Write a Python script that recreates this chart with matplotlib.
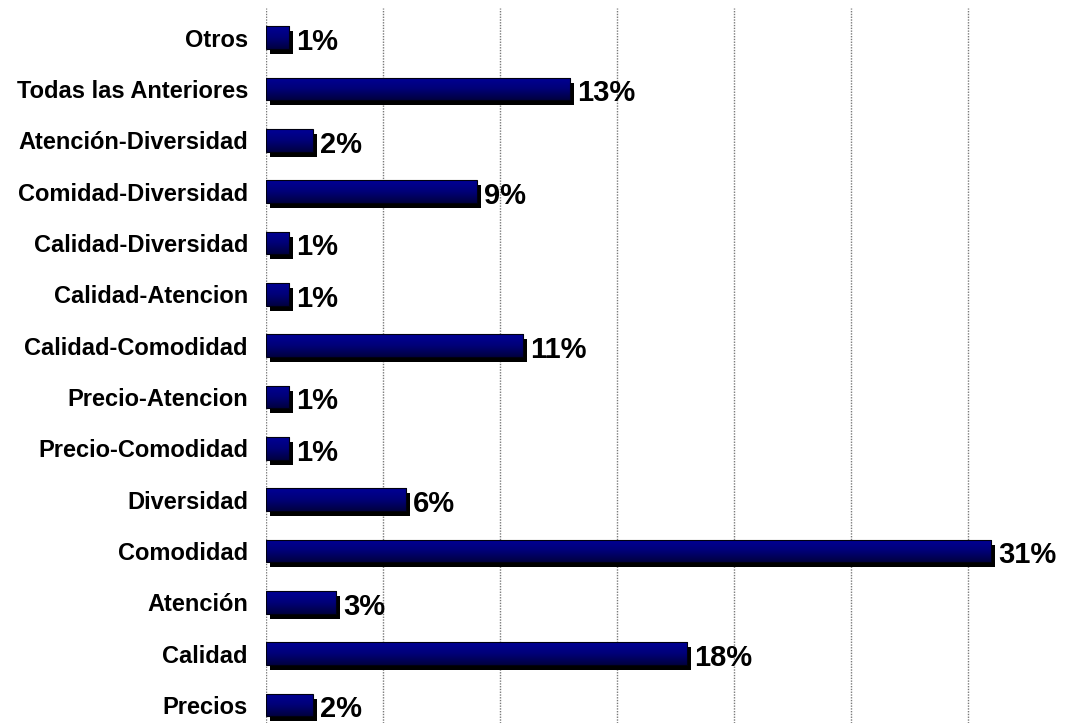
import numpy as np
import matplotlib
matplotlib.use("Agg")
import matplotlib.pyplot as plt
import matplotlib.transforms as mtransforms
from matplotlib.colors import LinearSegmentedColormap

# Survey answers, bottom to top
categories = [
    "Precios", "Calidad", "Atención", "Comodidad", "Diversidad",
    "Precio-Comodidad", "Precio-Atencion", "Calidad-Comodidad",
    "Calidad-Atencion", "Calidad-Diversidad", "Comidad-Diversidad",
    "Atención-Diversidad", "Todas las Anteriores", "Otros",
]
percentages = [2, 18, 3, 31, 6, 1, 1, 11, 1, 1, 9, 2, 13, 1]
grid_ticks = [0, 5, 10, 15, 20, 25, 30, 35]

plt.rcParams["font.family"] = ["Liberation Sans", "DejaVu Sans"]

W, H = 1080, 723
fig = plt.figure(figsize=(W / 100, H / 100), dpi=100)
ax_left, ax_right = 266 / W, 1080 / W
ax_top = 1 - 8 / H
ax = fig.add_axes([ax_left, 0, ax_right - ax_left, ax_top])

y = np.arange(len(categories))
bar_h = 0.44
xlim = (0, 814 / 23.4)
ylim = (-0.35, len(categories) - 1 + 0.58)

# vertical dotted gridlines
for t in grid_ticks:
    ax.axvline(t, color="#7a7a7a", lw=1.0, ls=(0, (1, 1)), zorder=0)

# drop shadow, offset right/down
shadow_tr = ax.transData + mtransforms.ScaledTranslation(4 / 100, -5 / 100, fig.dpi_scale_trans)
ax.barh(y, percentages, height=bar_h, color="black", transform=shadow_tr, zorder=2)

# gradient face
cmap = LinearSegmentedColormap.from_list("navy", ["#000096", "#000078", "#000040"])
grad = np.linspace(0, 1, 64).reshape(-1, 1)
faces = ax.barh(y, percentages, height=bar_h, color="none", edgecolor="#000010",
                lw=0.8, zorder=4)
for rect, v, yy in zip(faces, percentages, y):
    im = ax.imshow(grad, cmap=cmap, aspect="auto", interpolation="bilinear",
                   extent=(0, v, yy - bar_h / 2, yy + bar_h / 2), zorder=3)
    im.set_clip_path(rect)
ax.set_xlim(*xlim)
ax.set_ylim(*ylim)

# value labels
for v, yy in zip(percentages, y):
    ax.annotate(f"{v}%", xy=(v, yy), xytext=(5, -3), textcoords="offset points",
                ha="left", va="center", fontsize=21, fontweight="bold",
                color="black", zorder=6)

ax.set_yticks(y)
ax.set_yticklabels(categories, fontsize=17, fontweight="bold")
ax.tick_params(axis="y", length=0, pad=13)
ax.set_xticks([])
for s in ax.spines.values():
    s.set_visible(False)

fig.savefig("out.png", dpi=100)
